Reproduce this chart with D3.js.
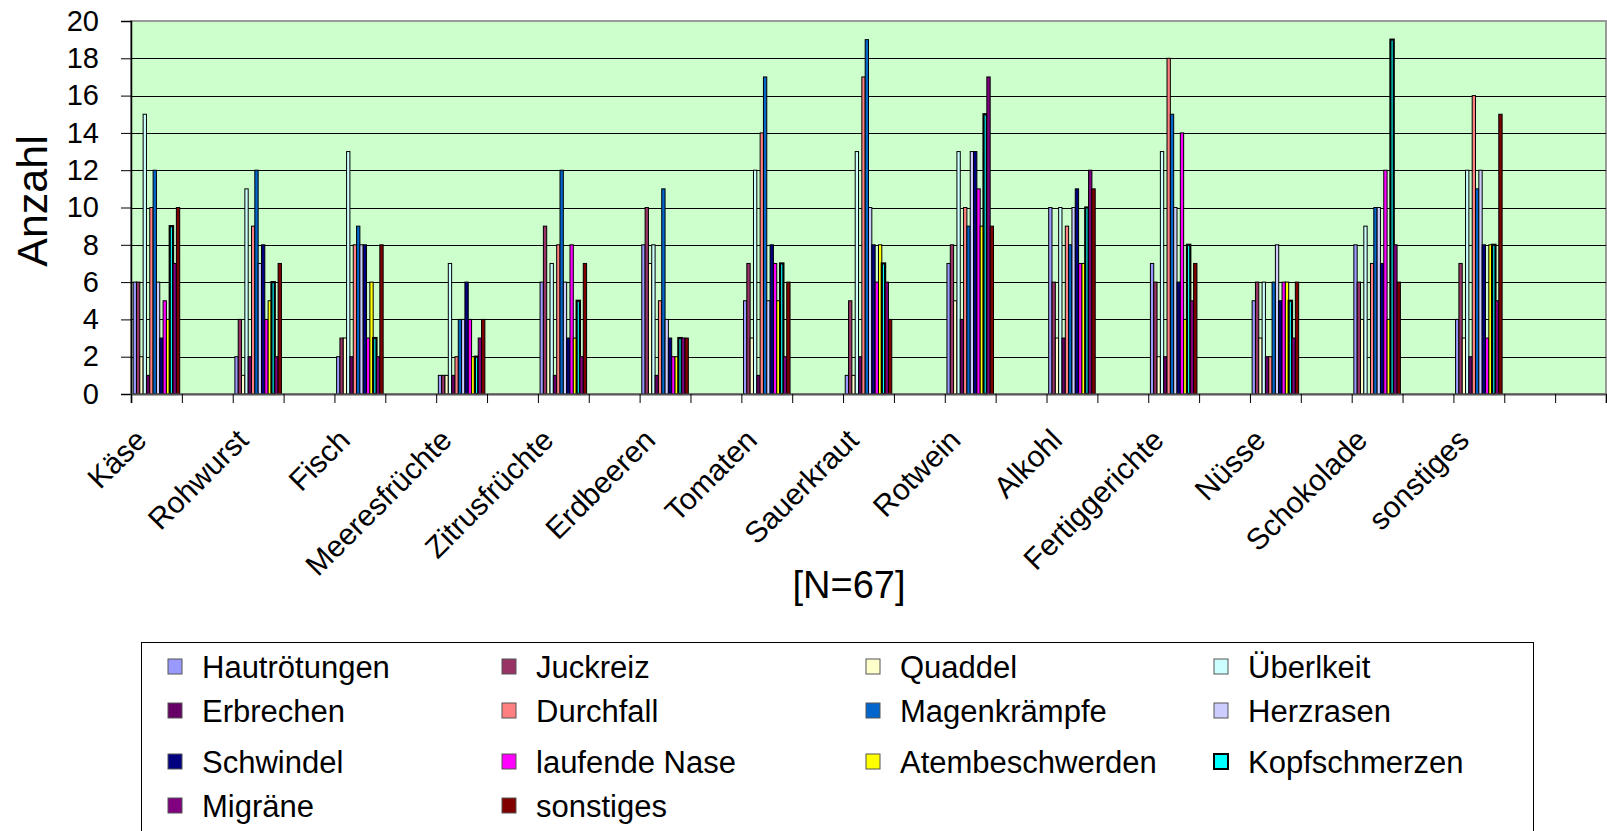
<!DOCTYPE html>
<html>
<head>
<meta charset="utf-8">
<script src="https://cdn.jsdelivr.net/npm/d3@7"></script>
<style>
body{margin:0;background:#fff;}
svg{display:block;font-family:"Liberation Sans",Arial,sans-serif;}
</style>
</head>
<body>
<svg id="chart" width="1607" height="831"></svg>
<script>
// categories (every second slot on the axis is empty)
var categories = ["Käse","Rohwurst","Fisch","Meeresfrüchte","Zitrusfrüchte","Erdbeeren","Tomaten",
                  "Sauerkraut","Rotwein","Alkohl","Fertiggerichte","Nüsse","Schokolade","sonstiges"];
var seriesNames = ["Hautrötungen","Juckreiz","Quaddel","Überlkeit","Erbrechen","Durchfall","Magenkrämpfe",
                   "Herzrasen","Schwindel","laufende Nase","Atembeschwerden","Kopfschmerzen","Migräne","sonstiges"];
var seriesColors = ["#9999FF","#993366","#FFFFCC","#CCFFFF","#660066","#FF8080","#0066CC",
                    "#CCCCFF","#000080","#FF00FF","#FFFF00","#00FFFF","#800080","#800000"];

var hautroetungen = [6,2,2,1,6,8,5,1,7,10,7,5,8,4];
var juckreiz      = [6,4,3,1,9,10,7,5,8,6,6,6,6,7];
var quaddel       = [2,1,3,1,4,7,3,1,5,3,2,3,4,3];
var uebelkeit     = [15,11,13,7,7,8,12,13,13,10,13,6,9,12];
var erbrechen     = [1,2,2,1,1,1,1,2,4,3,2,2,0,2];
var durchfall     = [10,9,8,2,8,5,14,17,10,9,18,2,7,16];
var magenkraempfe = [12,12,9,4,12,11,17,19,9,8,15,6,10,11];
var herzrasen     = [6,7,8,4,6,4,5,10,13,10,10,8,10,12];
var schwindel     = [3,8,8,6,3,3,8,8,13,11,6,5,7,8];
var laufendeNase  = [5,4,3,4,8,2,7,6,11,7,14,6,12,3];
var atembeschw    = [4,5,6,2,3,2,5,8,9,7,4,6,4,8];
var kopfschmerzen = [9,6,3,2,5,3,7,7,15,10,8,5,19,8];
var migraene      = [7,2,2,3,2,3,2,6,17,12,5,3,8,5];
var sonstiges     = [10,7,8,4,7,3,6,4,9,11,7,6,6,15];

var yTicks = [0,2,4,6,8,10,12,14,16,18,20];

var allValues = [hautroetungen,juckreiz,quaddel,uebelkeit,erbrechen,durchfall,magenkraempfe,
                 herzrasen,schwindel,laufendeNase,atembeschw,kopfschmerzen,migraene,sonstiges];

var plot = {left:131, right:1606, top:21, bottom:394};
var nSlots = 29;

var svg = d3.select("#chart");

var x0 = d3.scaleBand()
    .domain(d3.range(nSlots))
    .range([plot.left, plot.right])
    .paddingInner(0).paddingOuter(0);

var x1 = d3.scaleBand()
    .domain(seriesNames)
    .range([0, x0.bandwidth()])
    .paddingInner(0).paddingOuter(0.65);

var y = d3.scaleLinear().domain([0,20]).range([plot.bottom, plot.top]);

// plot area
svg.append("rect")
    .attr("x", plot.left).attr("y", plot.top)
    .attr("width", plot.right-plot.left).attr("height", plot.bottom-plot.top)
    .attr("fill", "#CCFFCC")
    .attr("stroke", "#999").attr("stroke-width", 2);

// gridlines
svg.append("g")
    .selectAll("line")
    .data(yTicks.filter(function(d){return d>0 && d<20;}))
    .enter()
    .append("line")
    .attr("x1", plot.left).attr("x2", plot.right)
    .attr("y1", function(d){return Math.round(y(d))+0.5;})
    .attr("y2", function(d){return Math.round(y(d))+0.5;})
    .attr("stroke", "#000").attr("stroke-width", 1);

// bars
var rows = [];
categories.forEach(function(c, ci){
    seriesNames.forEach(function(s, si){
        rows.push({cat:ci, series:s, si:si, value:allValues[si][ci]});
    });
});

svg.append("g")
    .selectAll("rect")
    .data(rows.filter(function(d){return d.value>0;}))
    .enter()
    .append("rect")
    .attr("x", function(d){return x0(d.cat*2) + x1(d.series);})
    .attr("width", x1.bandwidth())
    .attr("y", function(d){return y(d.value);})
    .attr("height", function(d){return y(0)-y(d.value);})
    .attr("fill", function(d){return seriesColors[d.si];})
    .attr("stroke", "#000")
    .attr("stroke-width", function(d){return d.si==11 ? 2.2 : 1;});

// y axis
var yAxis = svg.append("g")
    .attr("transform", "translate(" + plot.left + ",0)")
    .call(d3.axisLeft(y).tickValues(yTicks).tickSize(10).tickPadding(22));
yAxis.select(".domain").attr("stroke", "#000").attr("stroke-width", 1.5);
yAxis.selectAll(".tick line").attr("stroke", "#000");
yAxis.selectAll("text").attr("font-size", 29).attr("fill", "#000")
    .attr("font-family", "Liberation Sans, Arial, sans-serif");

// x axis (ticks between slots)
var xs = d3.scaleLinear().domain([0, nSlots]).range([plot.left, plot.right]);
var xAxis = svg.append("g")
    .attr("transform", "translate(0," + plot.bottom + ")")
    .call(d3.axisBottom(xs).tickValues(d3.range(nSlots+1)).tickSize(9).tickFormat(""));
xAxis.select(".domain").attr("stroke", "#555").attr("stroke-width", 2);
xAxis.selectAll(".tick line").attr("stroke", "#000");

// category labels
svg.append("g")
    .selectAll("text")
    .data(categories)
    .enter()
    .append("text")
    .attr("transform", function(d, i){
        var cx = x0(i*2) + x0.bandwidth()/2 - 8;
        return "translate(" + cx + ",442) rotate(-45)";
    })
    .attr("text-anchor", "end")
    .attr("font-size", 30)
    .text(function(d){return d;});

// axis titles
svg.append("text")
    .attr("x", 849).attr("y", 598)
    .attr("text-anchor", "middle")
    .attr("font-size", 38)
    .text("[N=67]");

svg.append("text")
    .attr("transform", "translate(47,201) rotate(-90)")
    .attr("text-anchor", "middle")
    .attr("font-size", 43)
    .text("Anzahl");

// legend
var legendCols = [202, 536, 900, 1248];
var legendRows = [667, 711, 762, 806];

var legend = svg.append("g");
legend.append("rect")
    .attr("x", 141.5).attr("y", 642.5)
    .attr("width", 1392).attr("height", 200)
    .attr("fill", "#fff").attr("stroke", "#000").attr("stroke-width", 1);

var items = legend.selectAll("g.item")
    .data(seriesNames)
    .enter()
    .append("g")
    .attr("class", "item")
    .attr("transform", function(d, i){
        return "translate(" + legendCols[i % 4] + "," + legendRows[Math.floor(i / 4)] + ")";
    });

items.append("rect")
    .attr("x", -34).attr("y", -8)
    .attr("width", 14).attr("height", 15)
    .attr("fill", function(d, i){return seriesColors[i];})
    .attr("stroke", function(d, i){return i==11 ? "#000" : "#555";})
    .attr("stroke-width", function(d, i){return i==11 ? 2 : 1;});

items.append("text")
    .attr("x", 0).attr("y", 11)
    .attr("font-size", 31)
    .text(function(d){return d;});
</script>
</body>
</html>
